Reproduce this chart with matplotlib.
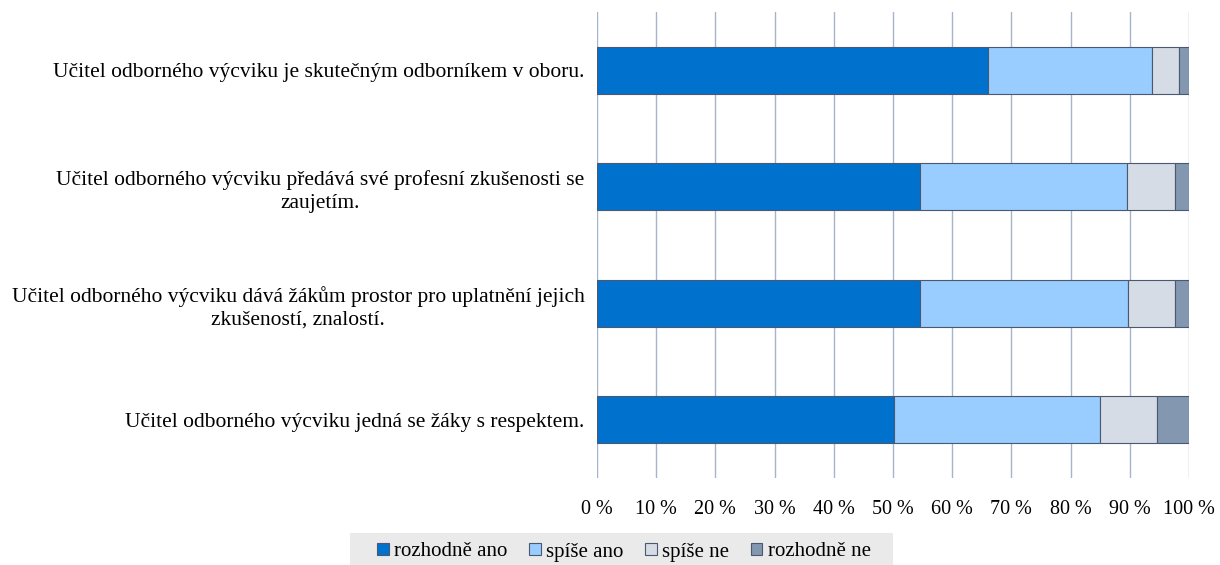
import numpy as np
import matplotlib
matplotlib.use('Agg')
import matplotlib.pyplot as plt
from matplotlib.patches import Rectangle

plt.rcParams['font.family'] = ['Liberation Serif', 'DejaVu Serif']

# Data (percent of answers)
statements = [
    'Učitel odborného výcviku je skutečným odborníkem v oboru.',
    'Učitel odborného výcviku předává své profesní zkušenosti se\nzaujetím.',
    'Učitel odborného výcviku dává žákům prostor pro uplatnění jejich\nzkušeností, znalostí.',
    'Učitel odborného výcviku jedná se žáky s respektem.',
]
answers = ['rozhodně ano', 'spíše ano', 'spíše ne', 'rozhodně ne']
rozhodne_ano = [66.1, 54.5, 54.6, 50.1]
spise_ano = [27.6, 35.0, 35.1, 34.9]
spise_ne = [4.6, 8.1, 7.9, 9.6]
rozhodne_ne = [1.7, 2.4, 2.4, 5.4]
colors = ['#0072CE', '#99CCFF', '#D6DCE5', '#8497B0']

series = [rozhodne_ano, spise_ano, spise_ne, rozhodne_ne]

fig = plt.figure(figsize=(12.2, 5.65), dpi=100)
ax = fig.add_axes([597 / 1220, 1 - 478 / 565, 592 / 1220, 466 / 565])

y = np.arange(len(statements))
left = np.zeros(len(statements))
for vals, name, col in zip(series, answers, colors):
    ax.barh(y, vals, left=left, height=0.4, color=col, edgecolor='#4A5870',
            linewidth=0.8, label=name, zorder=3)
    left += np.array(vals)

ax.set_xlim(0, 100)
ax.set_ylim(3.5, -0.5)
ax.set_xticks(np.arange(0, 101, 10))
ax.set_xticklabels(['{} %'.format(v) for v in range(0, 101, 10)], fontsize=14.5)
ax.set_yticks(y)
ax.set_yticklabels(statements, fontsize=15.5, multialignment='center',
                   linespacing=1.3)
ax.tick_params(axis='y', length=0, pad=9)
ax.tick_params(axis='x', length=0, pad=16)
ax.grid(axis='x', color='#A6B4CA', linewidth=1.0, zorder=0)
for s in ax.spines.values():
    s.set_visible(False)

# grey legend band
fig.patches.append(Rectangle((350 / 1220, 0), 543 / 1220, 32 / 565,
                             transform=fig.transFigure, facecolor='#EAEAEA',
                             edgecolor='none', zorder=0))
leg = fig.legend(loc='center', bbox_to_anchor=(624 / 1220, 1 - 552 / 565), ncol=4,
                 fontsize=15, frameon=False, handlelength=0.55, handleheight=0.55,
                 handletextpad=0.25, columnspacing=1.05, borderpad=0.2)

fig.savefig('out.png', dpi=100)
